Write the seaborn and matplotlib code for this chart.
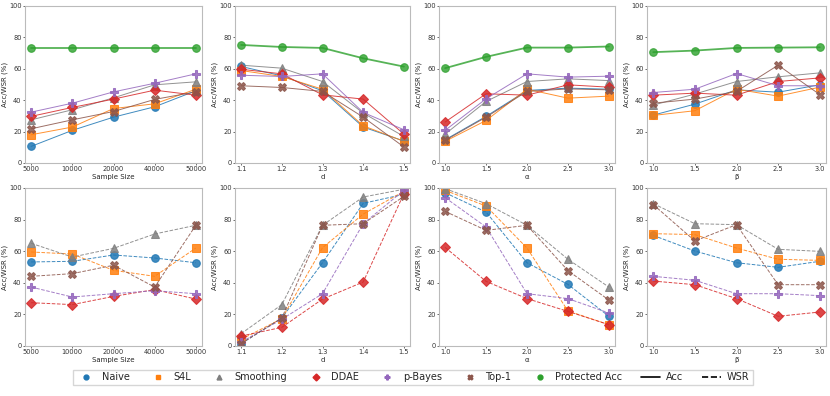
import numpy as np
import pandas as pd
import seaborn as sns
import matplotlib
matplotlib.use("Agg")
from matplotlib import pyplot as plt
from matplotlib.lines import Line2D

# x axis categories for the four settings
sample_sizes = ["5000", "10000", "20000", "40000", "50000"]
d_vals = ["1.1", "1.2", "1.3", "1.4", "1.5"]
alpha_vals = ["1.0", "1.5", "2.0", "2.5", "3.0"]
beta_vals = ["1.0", "1.5", "2.0", "2.5", "3.0"]

methods = ["Naive", "S4L", "Smoothing", "DDAE", "p-Bayes", "Top-1"]

# Acc (top row)
acc_size = {
    "Naive":     [10.6, 20.8, 29.2, 35.8, 46.0],
    "S4L":       [18.0, 22.9, 34.7, 37.7, 47.0],
    "Smoothing": [27.5, 33.9, 41.5, 49.8, 51.7],
    "DDAE":      [29.7, 35.4, 40.7, 46.4, 43.2],
    "p-Bayes":   [32.4, 38.1, 45.3, 50.8, 56.8],
    "Top-1":     [21.8, 27.5, 32.8, 40.5, 45.3],
}
prot_size = [73.3, 73.3, 73.3, 73.3, 73.3]

acc_d = {
    "Naive":     [61.5, 55.5, 46.0, 22.9, 14.0],
    "S4L":       [58.9, 55.1, 47.0, 23.7, 13.8],
    "Smoothing": [62.3, 60.4, 51.9, 31.8, 16.9],
    "DDAE":      [59.7, 56.8, 43.4, 40.7, 18.4],
    "p-Bayes":   [55.9, 55.1, 56.8, 32.2, 21.2],
    "Top-1":     [49.2, 48.1, 45.6, 29.2, 10.2],
}
prot_d = [75.2, 73.9, 73.3, 66.7, 61.4]

acc_alpha = {
    "Naive":     [14.8, 29.7, 46.2, 47.7, 47.0],
    "S4L":       [13.8, 27.1, 47.0, 41.3, 42.6],
    "Smoothing": [18.4, 39.2, 51.9, 53.6, 52.5],
    "DDAE":      [26.1, 44.1, 43.2, 49.8, 48.3],
    "p-Bayes":   [20.8, 40.9, 56.8, 54.7, 55.3],
    "Top-1":     [14.4, 29.2, 45.6, 47.2, 46.6],
}
prot_alpha = [60.4, 67.6, 73.5, 73.5, 74.2]

acc_beta = {
    "Naive":     [30.5, 37.5, 46.6, 45.1, 49.8],
    "S4L":       [30.3, 33.3, 47.0, 42.6, 48.3],
    "Smoothing": [36.9, 43.9, 51.9, 54.9, 57.4],
    "DDAE":      [43.2, 44.5, 43.2, 51.9, 54.2],
    "p-Bayes":   [44.9, 47.0, 57.0, 49.2, 49.2],
    "Top-1":     [38.1, 40.7, 45.6, 62.3, 43.6],
}
prot_beta = [70.6, 71.6, 73.3, 73.5, 73.7]

# WSR (bottom row)
wsr_size = {
    "Naive":     [53.2, 53.6, 57.6, 55.7, 52.7],
    "S4L":       [59.5, 58.2, 47.9, 44.1, 62.0],
    "Smoothing": [65.0, 56.3, 61.8, 70.9, 76.4],
    "DDAE":      [27.4, 26.2, 31.4, 35.7, 29.7],
    "p-Bayes":   [37.3, 31.0, 33.1, 35.0, 33.1],
    "Top-1":     [44.1, 45.8, 51.1, 37.3, 76.4],
}
wsr_d = {
    "Naive":     [1.5, 17.7, 52.7, 90.3, 96.0],
    "S4L":       [4.2, 17.3, 62.2, 83.5, 97.9],
    "Smoothing": [7.8, 26.2, 76.4, 94.3, 99.2],
    "DDAE":      [6.3, 11.8, 29.7, 40.5, 96.4],
    "p-Bayes":   [2.5, 16.9, 33.1, 77.4, 98.5],
    "Top-1":     [1.5, 17.7, 76.4, 77.4, 94.7],
}
wsr_alpha = {
    "Naive":     [97.0, 84.8, 52.7, 39.0, 18.8],
    "S4L":       [98.5, 88.6, 62.0, 22.2, 13.5],
    "Smoothing": [99.6, 90.1, 76.4, 54.9, 37.3],
    "DDAE":      [62.4, 40.9, 30.0, 21.9, 13.5],
    "p-Bayes":   [93.9, 75.3, 33.1, 30.0, 20.9],
    "Top-1":     [85.2, 73.2, 76.4, 47.7, 29.1],
}
wsr_beta = {
    "Naive":     [70.0, 60.1, 52.7, 49.8, 53.6],
    "S4L":       [71.1, 70.5, 62.0, 54.9, 54.2],
    "Smoothing": [90.1, 77.4, 76.8, 61.2, 59.9],
    "DDAE":      [41.1, 38.8, 30.0, 18.8, 21.5],
    "p-Bayes":   [44.1, 41.6, 33.1, 33.1, 31.9],
    "Top-1":     [89.5, 66.5, 76.8, 38.8, 38.8],
}

colors = {"Naive": "#1f77b4", "S4L": "#ff7f0e", "Smoothing": "#7f7f7f",
          "DDAE": "#d62728", "p-Bayes": "#9467bd", "Top-1": "#8c564b",
          "Protected Acc": "#2ca02c"}
markers = {"Naive": "o", "S4L": "s", "Smoothing": "^", "DDAE": "D",
           "p-Bayes": "P", "Top-1": "X", "Protected Acc": "o"}

sns.set_style("ticks")
plt.rcParams["font.family"] = ["DejaVu Sans"]

fig = plt.figure(figsize=(8.3, 3.96), dpi=100)
W, H = 830, 396
cols = [(25, 202), (235, 410), (439, 615), (647, 826)]
rows = [(6, 163), (188, 346)]

xlabels = ["Sample Size", "d", "\u03b1", "\u03b2"]
ticks = [sample_sizes, d_vals, alpha_vals, beta_vals]
acc_sets = [acc_size, acc_d, acc_alpha, acc_beta]
prot_sets = [prot_size, prot_d, prot_alpha, prot_beta]
wsr_sets = [wsr_size, wsr_d, wsr_alpha, wsr_beta]


def style_ax(ax, labels, xlabel):
    ax.set_xticks(range(len(labels)))
    ax.set_xticklabels(labels)
    ax.set_ylim(0, 100)
    ax.set_yticks([0, 20, 40, 60, 80, 100])
    ax.set_xlim(-0.15, len(labels) - 0.85)
    ax.set_xlabel(xlabel, fontsize=5, labelpad=1)
    ax.set_ylabel("Acc/WSR (%)", fontsize=5, labelpad=1)
    ax.tick_params(labelsize=4.8, length=1.5, width=0.5, pad=1, colors="#333333")
    for s in ax.spines.values():
        s.set_color("#bbbbbb")
        s.set_linewidth(0.8)


for r, (y0, y1) in enumerate(rows):
    for c, (x0, x1) in enumerate(cols):
        ax = fig.add_axes([x0 / W, 1 - y1 / H, (x1 - x0) / W, (y1 - y0) / H])
        labels = ticks[c]
        pos = list(range(len(labels)))
        if r == 0:
            sns.lineplot(x=pos, y=prot_sets[c], ax=ax, color=colors["Protected Acc"],
                         marker="o", markersize=5.5, linewidth=1.3, alpha=0.8,
                         markeredgecolor=colors["Protected Acc"])
            data = acc_sets[c]
            ls = "-"
        else:
            data = wsr_sets[c]
            ls = "--"
        for m in methods:
            sns.lineplot(x=pos, y=data[m], ax=ax, color=colors[m], marker=markers[m],
                         markersize=5.5 if m != "DDAE" else 5, linewidth=0.7,
                         linestyle=ls, alpha=0.85, markeredgecolor=colors[m])
        style_ax(ax, labels, xlabels[c])

handles = []
for m in methods + ["Protected Acc"]:
    handles.append(Line2D([], [], color=colors[m], marker=markers[m], linestyle="none",
                          markersize=3.5, label=m))
handles.append(Line2D([], [], color="black", linestyle="-", linewidth=1.2, label="Acc"))
handles.append(Line2D([], [], color="black", linestyle="--", linewidth=1.2, label="WSR"))

fig.legend(handles=handles, loc="center", bbox_to_anchor=(413 / W, 1 - 377.5 / H),
           ncol=9, fontsize=7, frameon=True, handlelength=2.0, columnspacing=1.9,
           handletextpad=0.6, borderpad=0.3, borderaxespad=0, edgecolor="#cccccc",
           fancybox=False)

fig.savefig("out.png", dpi=100)
